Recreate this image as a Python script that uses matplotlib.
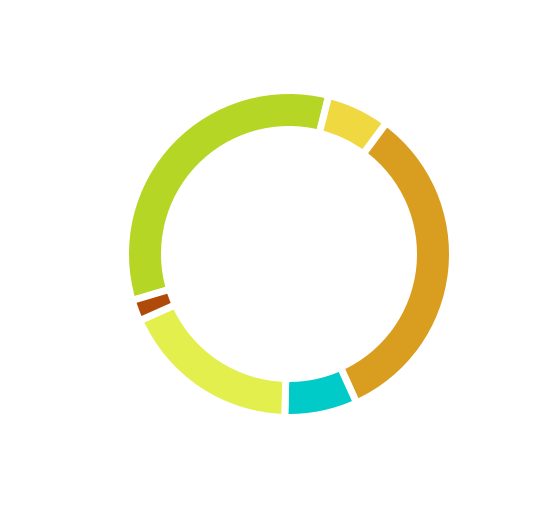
import matplotlib
matplotlib.use("Agg")
import matplotlib.pyplot as plt

# slice order, clockwise starting at the green slice on the left
categories = ["A", "B", "C", "D", "E", "F"]
values = [33.5, 6.25, 33.05, 7.2, 17.9, 2.1]
colors = ["#b5d624", "#f0d840", "#d99e20", "#00cbc8", "#e3ef4c", "#b04a0a"]

W, H = 560, 505
fig = plt.figure(figsize=(W / 100, H / 100), dpi=100)
ax = fig.add_axes([0, 0, 1, 1])

gap_px = 7
lw_pt = gap_px * 72 / 100
ax.pie(
    values,
    colors=colors,
    center=(289, H - 254),
    radius=160 + gap_px / 2,
    startangle=196.5,
    counterclock=False,
    frame=True,
    wedgeprops=dict(width=32 + gap_px, edgecolor="white", linewidth=lw_pt),
)
ax.set_xlim(0, W)
ax.set_ylim(0, H)
ax.axis("off")

fig.savefig("out.png", dpi=100)
